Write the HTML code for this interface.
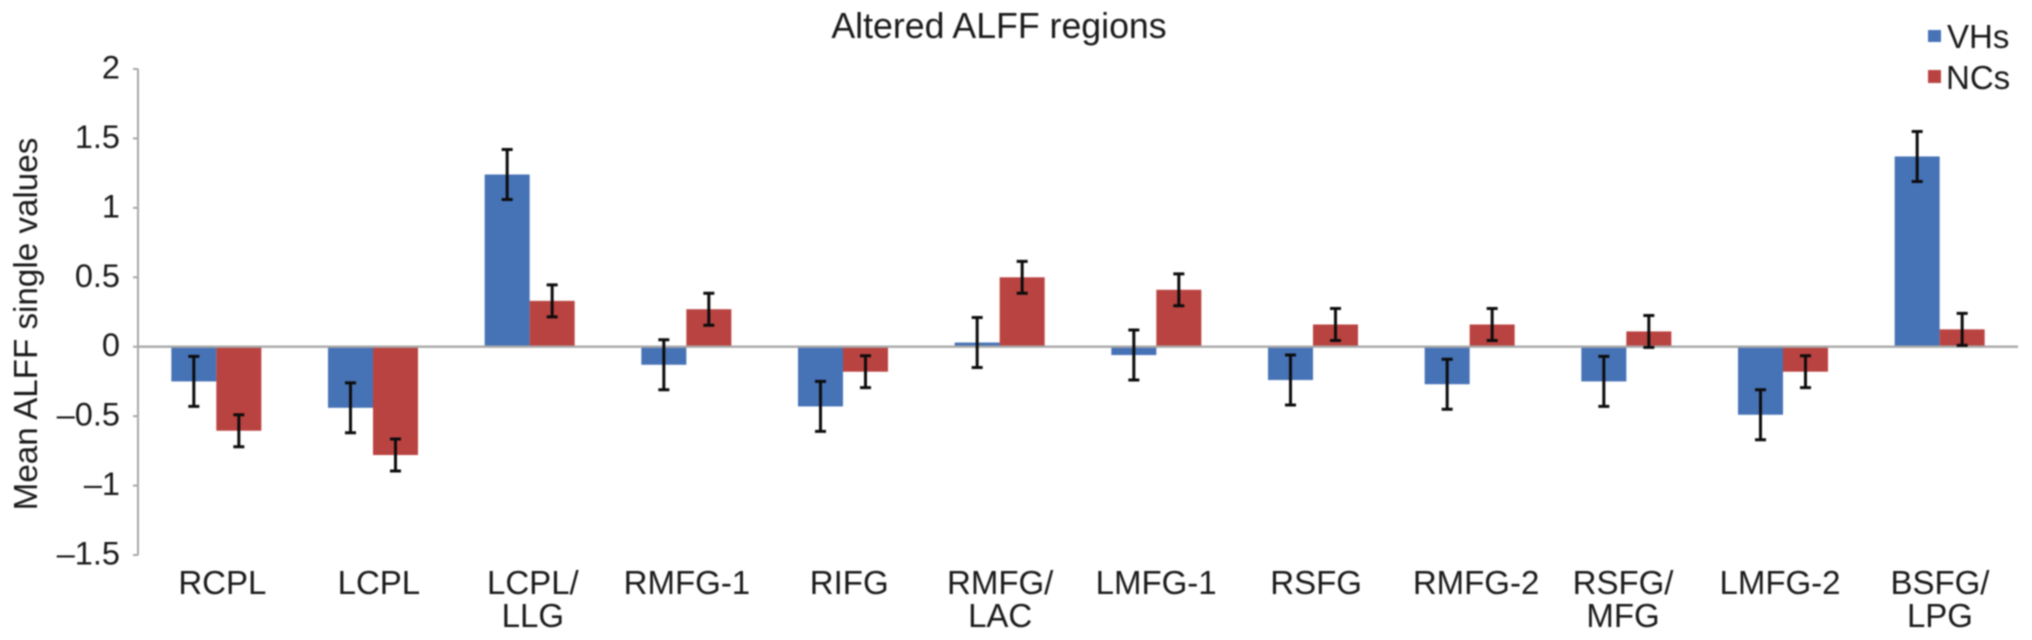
<!DOCTYPE html>
<html>
<head>
<meta charset="utf-8">
<title>Altered ALFF regions</title>
<style>
html,body{margin:0;padding:0;background:#fff;width:2032px;height:640px;overflow:hidden}
svg{display:block}
text{font-family:"Liberation Sans",sans-serif;fill:#1a1a1a}
</style>
</head>
<body>
<svg id="chart" xmlns="http://www.w3.org/2000/svg" width="2032" height="640" viewBox="0 0 2032 640">
  <g id="root" style="filter:blur(0.8px)"></g>
</svg>
<script>
const categories = ["RCPL","LCPL","LCPL/LLG","RMFG-1","RIFG","RMFG/LAC","LMFG-1","RSFG","RMFG-2","RSFG/MFG","LMFG-2","BSFG/LPG"];
const vhsValues = [-0.25,-0.44,1.24,-0.13,-0.43,0.03,-0.06,-0.24,-0.27,-0.25,-0.49,1.37];
const ncsValues = [-0.605,-0.78,0.33,0.27,-0.18,0.5,0.41,0.16,0.16,0.11,-0.18,0.125];
const vhsErrors = [0.18,0.18,0.18,0.18,0.18,0.18,0.18,0.18,0.18,0.18,0.18,0.18];
const ncsErrors = [0.115,0.115,0.115,0.115,0.115,0.115,0.115,0.115,0.115,0.115,0.115,0.115];
const yTicks = [2,1.5,1,0.5,0,-0.5,-1,-1.5];

const NS = "http://www.w3.org/2000/svg";
const root = document.getElementById("root");
const plotLeft = 138, plotRight = 2018, yTop = 69, yBottom = 555;
const yMax = 2, yMin = -1.5;
const barWidth = 45, capHalf = 5.5;
const blue = "#4672b6", red = "#b94341", axisColor = "#a8a8a8";

function yScale(v){ return yTop + (yMax - v) / (yMax - yMin) * (yBottom - yTop); }
function groupCenter(i){ return plotLeft + (i + 0.5) * (plotRight - plotLeft) / categories.length; }
function make(tag, attrs, text){
  const el = document.createElementNS(NS, tag);
  for (const k in attrs) el.setAttribute(k, attrs[k]);
  if (text !== undefined) el.textContent = text;
  root.appendChild(el);
  return el;
}
function label(v){ return v < 0 ? "\u2013" + Math.abs(v) : String(v); }

function drawBars(values, offset, color, prefix){
  values.forEach(function(v, i){
    const cx = groupCenter(i) + offset;
    const y0 = yScale(0), y1 = yScale(v);
    const bar = make("rect", {x: cx - barWidth / 2, y: Math.min(y0, y1), width: barWidth, height: Math.abs(y1 - y0), fill: color});
    
    
  });
}
function drawErrors(values, errors, offset, prefix){
  values.forEach(function(v, i){
    const cx = groupCenter(i) + offset;
    const hi = yScale(v + errors[i]), lo = yScale(v - errors[i]);
    const d = "M" + cx + " " + hi + "V" + lo + "M" + (cx - capHalf) + " " + hi + "H" + (cx + capHalf) + "M" + (cx - capHalf) + " " + lo + "H" + (cx + capHalf);
    const err = make("path", {d: d, stroke: "#0c0c0c", "stroke-width": 3, fill: "none"});
    
    
  });
}

drawBars(vhsValues, -barWidth / 2, blue, 'vhs');
drawBars(ncsValues, barWidth / 2, red, 'ncs');

const yAxis = make("line", {x1: plotLeft, x2: plotLeft, y1: yTop, y2: yBottom, stroke: axisColor, "stroke-width": 2});


const xAxis = make("line", {x1: plotLeft, x2: plotRight, y1: yScale(0), y2: yScale(0), stroke: axisColor, "stroke-width": 2.4});



drawErrors(vhsValues, vhsErrors, -barWidth / 2, 'vhs');
drawErrors(ncsValues, ncsErrors, barWidth / 2, 'ncs');

yTicks.forEach(function(t){
  const tick = make("line", {x1: plotLeft - 5, x2: plotLeft, y1: yScale(t), y2: yScale(t), stroke: axisColor, "stroke-width": 2});
  
  
  const txt = make("text", {x: 120, y: yScale(t) + 9.5, "text-anchor": "end", "font-size": 32.5}, label(t));
  
  
});

(function drawCategoryLabels(){
  const labelNudge = [6,5.9,3.2,0.6,6.2,0.5,-0.2,3.1,6.4,-3.3,-3,0.3];
  categories.forEach(function(c, i){
    const cut = c.indexOf("/");
    const lines = cut >= 0 ? [c.slice(0, cut + 1), c.slice(cut + 1)] : [c];
    const cx = groupCenter(i) + labelNudge[i];
    lines.forEach(function(s, j){
      const t = make("text", {x: cx, y: 594 + j * 33, "text-anchor": "middle", "font-size": 33}, s);
      
      
    });
  });
})();

const title = make("text", {x: 999, y: 38, "text-anchor": "middle", "font-size": 35.7}, "Altered ALFF regions");



const yTitle = make("text", {x: 0, y: 0, "text-anchor": "middle", "font-size": 33.2, transform: "translate(37 324) rotate(-90)"}, "Mean ALFF single values");



const vhsSwatch = make("rect", {x: 1928, y: 30, width: 13, height: 12, fill: blue});


const vhsLabel = make("text", {x: 1947, y: 48, "font-size": 33}, "VHs");


const ncsSwatch = make("rect", {x: 1928, y: 70, width: 13, height: 13, fill: red});


const ncsLabel = make("text", {x: 1946, y: 89, "font-size": 33}, "NCs");


</script>
</body>
</html>
